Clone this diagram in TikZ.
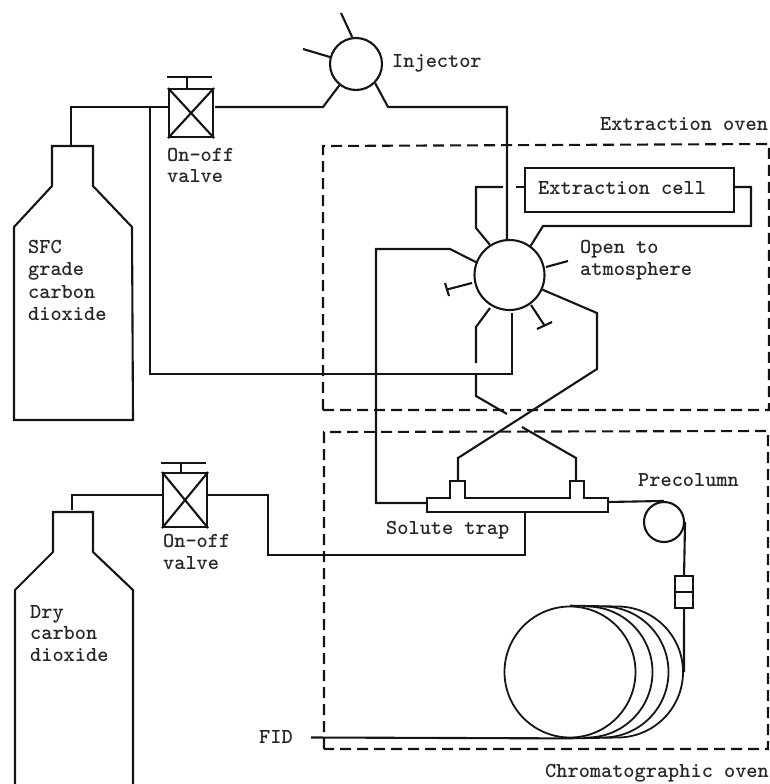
\documentclass[tikz,border=0pt]{standalone}
\usepackage{tikz}
\tikzset{
  pipe/.style={line width=2.1pt,line join=miter,black!92},
  thinpipe/.style={line width=1.8pt,black!92},
  oven/.style={line width=2.1pt,black!92,dash pattern=on 11pt off 6pt},
  port/.style={draw=black!92,line width=2.1pt,circle,inner sep=0pt,fill=white},
  box/.style={draw=black!92,line width=2.1pt,rectangle,inner sep=0pt,anchor=north west},
  lab/.style={anchor=base west,inner sep=0pt,font=\fontsize{21.3}{22}\selectfont\ttfamily\bfseries,text=black!85}
}
\begin{document}
\begin{tikzpicture}[x=1pt,y=-1pt]
\useasboundingbox (0,0) rectangle (770,784);
% ovens
\draw[oven] (323,410) -- (323,146) -- (769,144) -- (769,410) -- cycle;
\draw[oven] (324,749) -- (324,432) -- (768,431) -- (768,749) -- cycle;
% bottles
\draw[pipe] (14,420) -- (14,227) -- (52,186) -- (52,146) -- (93,146) -- (93,186) -- (132,227) -- (133,420) -- cycle;
\draw[pipe] (15,784) -- (15,590) -- (53,552) -- (53,512) -- (93,512) -- (93,552) -- (133,590) -- (133,784);
\coordinate (b1) at (71,146);
\coordinate (b2) at (72,510);
% valves
\node[box,minimum width=44pt,minimum height=48pt] (v1) at (168,88) {};
\node[box,minimum width=44pt,minimum height=54pt] (v2) at (162,472) {};
\foreach \v in {v1,v2}{
  \draw[pipe] (\v.north west) -- (\v.south east) (\v.north east) -- (\v.south west);
}
\coordinate (h1) at (187,77);
\coordinate (h2) at (181,463);
\draw[pipe] (167,77) -- (212,77) (h1) -- (h1 |- v1.north);
\draw[pipe] (161,463) -- (206,463) (h2) -- (h2 |- v2.north);
% injector and rotary valve
\node[port,minimum size=52pt] (inj) at (356,64) {};
\node[port,minimum size=70pt] (rv) at (509.5,275) {};
\draw[pipe] (inj.98) -- (341,13);
\draw[pipe] (inj.165) -- (303,49);
% extraction cell
\node[box,minimum width=209pt,minimum height=44pt] (cell) at (524,167) {};
% supply lines
\coordinate (tee) at (150,107);
\draw[pipe] (b1) -- (71,107) -- (v1.west |- tee);
\coordinate (b5) at (512,313);
\draw[thinpipe] (tee) -- (150,374) -- (512,374) -- (b5);
\coordinate (v1e) at (215,107);
\draw[pipe] (v1e) -- (323,107) -- (inj.-128);
\draw[pipe] (inj.-45) -- (388,107) -- (507,107) -- (rv.94);
% cell ports
\coordinate (c1) at (503,187);
\coordinate (c2) at (516,187);
\draw[pipe] (rv.123) -- (476,228) -- (476,187) -- (c1);
\draw[pipe] (c2) -- (cell.west |- c2);
\draw[pipe] (cell.east |- c2) -- (751,187) -- (751,226) -- (543,226) -- (rv.54);
% rotary stubs
\coordinate (s1) at (546,267);
\coordinate (s1e) at (568,261);
\draw[pipe] (s1) -- (s1e);
\coordinate (s2) at (472,283);
\coordinate (s2e) at (447,289.5);
\draw[pipe] (s2) -- (s2e);
\draw[pipe] (445,283) -- (449,296);
\coordinate (s3) at (531,305);
\coordinate (s3e) at (544.5,325.5);
\draw[pipe] (s3) -- (s3e);
\draw[pipe] (537,329) -- (552,322);
% trap
\draw[pipe] (427,498) -- (450,498) -- (450,481) -- (465,481) -- (465,498) -- (570,498) -- (570,481) -- (584,481) -- (584,498) -- (608,498) -- (608,512) -- (427,512) -- cycle;
\coordinate (tl) at (458,481);
\coordinate (tr) at (576,481);
\coordinate (tw) at (427,503);
\coordinate (te) at (608,502);
\coordinate (ts) at (525,512);
% loops to trap
\draw[pipe] (rv.159) -- (450,249) -- (376,249) -- (376,503) -- (tw);
\coordinate (a1) at (490,308);
\coordinate (a2) at (476,363);
\draw[pipe] (a1) -- (476,327) -- (a2);
\coordinate (a3) at (476,375);
\coordinate (a4) at (507,414);
\draw[pipe] (a3) -- (476,396) -- (a4);
\coordinate (a5) at (522,427);
\draw[pipe] (a5) -- (576,458) -- (tr);
\draw[pipe] (rv.-24) -- (597,313) -- (597,369) -- (458,458) -- (tl);
% dry CO2 line
\coordinate (d1) at (268,495);
\draw[pipe] (b2) -- (72,495) -- (v2.west |- d1);
\draw[pipe] (v2.east |- d1) -- (d1) -- (268,555) -- (525,555) -- (ts);
% precolumn
\node[port,minimum size=40pt,fill=none] (pc) at (664,522) {};
\draw[pipe] (te) -- (pc.north);
\node[box,minimum width=18pt,minimum height=32pt] (cn) at (674,575) {};
\draw[pipe] (cn.west) -- (cn.east);
\draw[pipe] (pc.east) -- (cn.north);
% coil
\node[port,minimum size=131pt,fill=none,line width=1.8pt] (coil) at (570,672) {};
\draw[thinpipe] (587,606.5) arc (-90:90:65.5);
\draw[thinpipe] (603,606.5) arc (-90:90:65.5);
\draw[thinpipe] (617.5,606.5) arc (-90:90:65.5);
\draw[thinpipe] (coil.north) -- (617.5,606.5) (coil.south) -- (617.5,737.5);
\coordinate (fid) at (311,737.5);
\draw[pipe] (fid) -- (coil.south);
\coordinate (ce) at (684,672);
\draw[pipe] (cn.south) -- (ce);
% labels
\node[lab] (t1) at (392,67) {Injector};
\node[lab] (t2) at (167,161) {On-off};
\node[lab] (t3) at (167,182.5) {valve};
\node[lab] (t4) at (600,130) {Extraction oven};
\node[lab] (t5) at (538,194) {Extraction cell};
\node[lab] (t6) at (580,253) {Open to};
\node[lab] (t7) at (580,275) {atmosphere};
\node[lab] (t8) at (28,253) {SFC};
\node[lab] (t9) at (28,275) {grade};
\node[lab] (t10) at (28,298) {carbon};
\node[lab] (t11) at (28,320) {dioxide};
\node[lab] (t12) at (638,486) {Precolumn};
\node[lab] (t13) at (386,534) {Solute trap};
\node[lab] (t14) at (163,547) {On-off};
\node[lab] (t15) at (163,569) {valve};
\node[lab] (t16) at (30,618) {Dry};
\node[lab] (t17) at (30,639) {carbon};
\node[lab] (t18) at (30,661) {dioxide};
\node[lab] (t19) at (259,743) {FID};
\node[lab] (t20) at (545,777) {Chromatographic oven};
\end{tikzpicture}
\end{document}
